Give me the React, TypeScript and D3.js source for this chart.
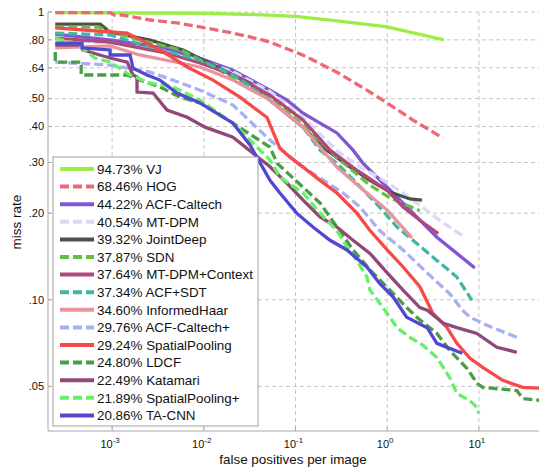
import React from "react";
import * as d3 from "d3";

const W = 539;
const H = 468;

const methods = ["VJ", "HOG", "ACF-Caltech", "MT-DPM", "JointDeep", "SDN", "MT-DPM+Context", "ACF+SDT", "InformedHaar", "ACF-Caltech+", "SpatialPooling", "LDCF", "Katamari", "SpatialPooling+", "TA-CNN"];
const scores = [94.73, 68.46, 44.22, 40.54, 39.32, 37.87, 37.64, 37.34, 34.6, 29.76, 29.24, 24.8, 22.49, 21.89, 20.86];

const vj = [[2.4e-4, 0.995], [0.01, 0.99], [0.05, 0.976], [0.1, 0.965], [0.3, 0.93], [1, 0.887], [1.77, 0.852], [4.15, 0.8]];
const hog = [[2.4e-4, 0.995], [9.5e-4, 0.995], [1.05e-3, 0.976], [1.3e-3, 0.976], [2.6e-3, 0.938], [5.1e-3, 0.916], [9.1e-3, 0.887], [0.0208, 0.845], [0.0442, 0.799], [0.0527, 0.786], [0.121, 0.708], [0.283, 0.618], [0.649, 0.527], [1, 0.483], [1.91, 0.421], [4.05, 0.365]];
const acfCaltech = [[2.4e-4, 0.838], [1e-3, 0.799], [3.6e-3, 0.75], [9.1e-3, 0.69], [0.0208, 0.628], [0.0527, 0.535], [0.0808, 0.494], [0.121, 0.445], [0.185, 0.411], [0.283, 0.38], [0.424, 0.331], [0.545, 0.298], [1, 0.246], [1.91, 0.2], [3.48, 0.165], [5.75, 0.145], [9.04, 0.129]];
const mtDpm = [[2.4e-4, 0.8], [1e-3, 0.78], [3.3e-3, 0.73], [9e-3, 0.68], [0.0208, 0.62], [0.0527, 0.53], [0.121, 0.43], [0.283, 0.33], [0.467, 0.294], [0.827, 0.265], [1.49, 0.235], [2.4, 0.21], [4.1, 0.185], [7.03, 0.165]];
const jointDeep = [[2.4e-4, 0.908], [7.4e-4, 0.908], [9.5e-4, 0.852], [2.6e-3, 0.799], [5.94e-3, 0.738], [0.0139, 0.644], [0.0319, 0.566], [0.0527, 0.494], [0.121, 0.398], [0.199, 0.339], [0.364, 0.294], [0.649, 0.26], [1.07, 0.237], [1.77, 0.224], [2.39, 0.222]];
const sdn = [[2.4e-4, 0.887], [7e-4, 0.887], [1.08e-3, 0.845], [2.47e-3, 0.786], [5.66e-3, 0.738], [9.1e-3, 0.681], [0.0208, 0.594], [0.0527, 0.502], [0.121, 0.405], [0.305, 0.306], [0.649, 0.25], [1.07, 0.226], [2.27, 0.204]];
const mtDpmContext = [[2.4e-4, 0.812], [9.5e-4, 0.786], [3.97e-3, 0.72], [9.1e-3, 0.665], [0.0208, 0.604], [0.0527, 0.514], [0.121, 0.421], [0.238, 0.331], [0.467, 0.282], [1, 0.24], [1.49, 0.21], [2.27, 0.189], [3.6, 0.17]];
const acfSdt = [[2.4e-4, 0.845], [9.5e-4, 0.832], [2.6e-3, 0.756], [9.1e-3, 0.681], [0.0208, 0.604], [0.0527, 0.494], [0.121, 0.398], [0.185, 0.331], [0.283, 0.298], [0.467, 0.254], [0.827, 0.21], [1.28, 0.179], [2.1, 0.157], [3.48, 0.137], [5.75, 0.12], [8.4, 0.0996]];
const informedHaar = [[2.4e-4, 0.75], [9.5e-4, 0.762], [2e-3, 0.709], [9.1e-3, 0.644], [0.0208, 0.58], [0.0527, 0.494], [0.121, 0.398], [0.283, 0.289], [0.505, 0.246], [1, 0.205], [1.86, 0.164]];
const acfCaltechPlus = [[2.4e-4, 0.67], [9.5e-4, 0.654], [2.6e-3, 0.618], [4.6e-3, 0.58], [9.1e-3, 0.535], [0.0208, 0.475], [0.0527, 0.359], [0.112, 0.294], [0.185, 0.265], [0.33, 0.235], [0.505, 0.21], [0.827, 0.174], [1.49, 0.149], [2.73, 0.124], [4.8, 0.105], [6.6, 0.092], [8.0, 0.087], [12.2, 0.0815], [25.9, 0.0741]];
const spatialPooling = [[2.4e-4, 0.88], [9.5e-4, 0.852], [1.46e-3, 0.845], [3.33e-3, 0.738], [6.6e-3, 0.644], [0.0126, 0.58], [0.0248, 0.506], [0.0489, 0.43], [0.0676, 0.336], [0.087, 0.313], [0.121, 0.289], [0.185, 0.26], [0.283, 0.235], [0.467, 0.2], [0.649, 0.174], [1, 0.149], [1.49, 0.13], [2.27, 0.111], [3.14, 0.0898], [4.5, 0.08], [5.75, 0.0706], [8.0, 0.0626], [11, 0.0582], [18.2, 0.0525], [30, 0.0496], [50, 0.0493]];
const ldcf = [[2.4e-4, 0.726], [2.4e-4, 0.67], [4.6e-4, 0.67], [4.6e-4, 0.604], [1.46e-3, 0.604], [2.02e-3, 0.58], [3.33e-3, 0.549], [5.5e-3, 0.506], [9.1e-3, 0.483], [0.0208, 0.411], [0.0527, 0.339], [0.063, 0.298], [0.121, 0.246], [0.185, 0.217], [0.283, 0.179], [0.424, 0.149], [0.649, 0.127], [1.07, 0.108], [1.63, 0.094], [2.1, 0.087], [3.48, 0.0764], [4.8, 0.0667], [7.4, 0.0578], [9.6, 0.0512], [11, 0.0496], [25.9, 0.0484], [30, 0.0454], [50, 0.0446]];
const katamari = [[2.4e-4, 0.768], [4.6e-4, 0.768], [4.8e-4, 0.738], [9.5e-4, 0.692], [1.46e-3, 0.67], [1.69e-3, 0.604], [1.87e-3, 0.594], [1.87e-3, 0.527], [2.8e-3, 0.523], [3.97e-3, 0.456], [6.6e-3, 0.431], [0.0103, 0.398], [0.0208, 0.367], [0.0527, 0.29], [0.0808, 0.254], [0.121, 0.222], [0.185, 0.194], [0.283, 0.179], [0.424, 0.161], [0.649, 0.145], [1, 0.124], [1.49, 0.108], [2.27, 0.094], [2.73, 0.092], [4.1, 0.0828], [5.75, 0.08], [9.5, 0.0764], [15.7, 0.0684], [25.9, 0.0657]];
const spatialPoolingPlus = [[2.4e-4, 0.81], [4e-4, 0.78], [6.5e-4, 0.692], [9.5e-4, 0.67], [1.57e-3, 0.604], [2.6e-3, 0.566], [4.6e-3, 0.549], [9.1e-3, 0.494], [0.0208, 0.411], [0.0345, 0.35], [0.0527, 0.306], [0.0676, 0.267], [0.121, 0.235], [0.185, 0.2], [0.283, 0.174], [0.364, 0.152], [0.467, 0.137], [0.6, 0.12], [0.649, 0.108], [0.9, 0.094], [1.28, 0.08], [1.77, 0.074], [2.46, 0.0695], [3.48, 0.063], [4.8, 0.0537], [5.75, 0.0473], [8.0, 0.0446], [9.5, 0.0423], [10, 0.0403]];
const taCnn = [[2.4e-4, 0.78], [4.7e-4, 0.78], [4.7e-4, 0.75], [9.5e-4, 0.738], [9.5e-4, 0.709], [1.57e-3, 0.709], [1.69e-3, 0.638], [2.4e-3, 0.604], [3.33e-3, 0.58], [5.1e-3, 0.523], [9.1e-3, 0.483], [0.0208, 0.411], [0.0319, 0.345], [0.0527, 0.26], [0.0676, 0.235], [0.103, 0.2], [0.155, 0.179], [0.238, 0.161], [0.364, 0.149], [0.6, 0.13], [0.827, 0.114], [1.17, 0.102], [1.63, 0.087], [2.73, 0.08], [3.48, 0.0706], [4.8, 0.0678], [6.6, 0.0652]];

const series = [vj, hog, acfCaltech, mtDpm, jointDeep, sdn, mtDpmContext, acfSdt, informedHaar, acfCaltechPlus, spatialPooling, ldcf, katamari, spatialPoolingPlus, taCnn];

const colors = ["#9BEE48", "#EC6878", "#8056D2", "#D8D8F8", "#4B504B", "#66BE44", "#B04878", "#40B8A0", "#E8949C", "#A8B0F2", "#F84848", "#4A9C4A", "#904878", "#66F066", "#5048D2"];
const dashedFlags = [false, true, false, true, false, true, false, true, false, true, false, true, false, true, false];

const xTicks = [1e-3, 1e-2, 1e-1, 1, 10];
const xTickExp = ["-3", "-2", "-1", "0", "1"];
const yTicks = [0.05, 0.1, 0.2, 0.3, 0.4, 0.5, 0.64, 0.8, 1];
const yTickLabels = [".05", ".10", ".20", ".30", ".40", ".50", ".64", ".80", "1"];

const FONT = "'Liberation Sans', Arial, Helvetica, sans-serif";

export default function App() {
  const left = 48, top = 12, bottom = 431, right = 543;
  const x = d3.scaleLog().domain([2e-4, 50]).range([left, right]);
  const y = d3.scaleLog().domain([0.035, 1]).range([bottom, top]);
  const line = d3.line<number[]>().x((d) => x(d[0])).y((d) => y(d[1]));
  const gridColor = "#c4c4c4";
  const axisColor = "#a8a8a8";

  const legX = 53, legY = 157, legW = 205, legH = 269;
  const rowY0 = 169, rowStep = 17.6;

  return (
    <svg width={W} height={H} style={{ position: "absolute", left: 0, top: 0, background: "#fff" }} fontFamily={FONT}>
      <defs>
        <clipPath id="plotclip">
          <rect x={left} y={0} width={W - left} height={bottom - 0} />
        </clipPath>
      </defs>
      <rect x={0} y={0} width={W} height={H} fill="#fff" />
      {xTicks.map((t, i) => (
        <line key={"gx" + i} x1={x(t)} x2={x(t)} y1={top} y2={bottom} stroke={gridColor} strokeWidth={1} strokeDasharray="4,3" />
      ))}
      {yTicks.map((t, i) => (
        <line key={"gy" + i} x1={left} x2={W} y1={y(t)} y2={y(t)} stroke={gridColor} strokeWidth={1} strokeDasharray="4,3" />
      ))}
      <line x1={left} x2={left} y1={top} y2={bottom} stroke={axisColor} strokeWidth={1} />
      <line x1={left} x2={W} y1={bottom} y2={bottom} stroke={axisColor} strokeWidth={1} />
      {xTicks.map((t, i) => (
        <line key={"tx" + i} x1={x(t)} x2={x(t)} y1={bottom} y2={bottom - 4} stroke={axisColor} />
      ))}
      {yTicks.map((t, i) => (
        <line key={"ty" + i} x1={left} x2={left + 4} y1={y(t)} y2={y(t)} stroke={axisColor} />
      ))}
      <g clipPath="url(#plotclip)">
        {series.map((s, i) => (
          <path key={"s" + i} d={line(s as number[][]) || ""} fill="none" stroke={colors[i]} strokeWidth={3.3}
            strokeDasharray={dashedFlags[i] ? "9,4" : undefined} strokeLinejoin="miter" strokeLinecap="butt" />
        ))}
      </g>
      {yTicks.map((t, i) => (
        <text key={"ly" + i} x={44} y={y(t)} dy="0.35em" textAnchor="end" fontSize={11} fill="#111">{yTickLabels[i]}</text>
      ))}
      {xTicks.map((t, i) => (
        <text key={"lx" + i} x={x(t) - 2} y={448} textAnchor="middle" fontSize={11} fill="#111">
          10<tspan fontSize={8} dy={-5}>{xTickExp[i]}</tspan>
        </text>
      ))}
      <text x={293} y={464} textAnchor="middle" fontSize={13.4} fill="#111">false positives per image</text>
      <text transform="translate(21,222) rotate(-90)" textAnchor="middle" fontSize={13.5} fill="#111">miss rate</text>
      <rect x={legX} y={legY} width={legW} height={legH} fill="#fff" stroke="#a0a0a0" strokeWidth={1} />
      {methods.map((m, i) => {
        const yy = rowY0 + i * rowStep;
        return (
          <g key={"lg" + i}>
            <line x1={60} x2={94} y1={yy} y2={yy} stroke={colors[i]} strokeWidth={4}
              strokeDasharray={dashedFlags[i] ? "9,4" : undefined} />
            <text x={97} y={yy} dy="0.36em" fontSize={13.4} fill="#111">{scores[i].toFixed(2) + "% " + m}</text>
          </g>
        );
      })}
    </svg>
  );
}
